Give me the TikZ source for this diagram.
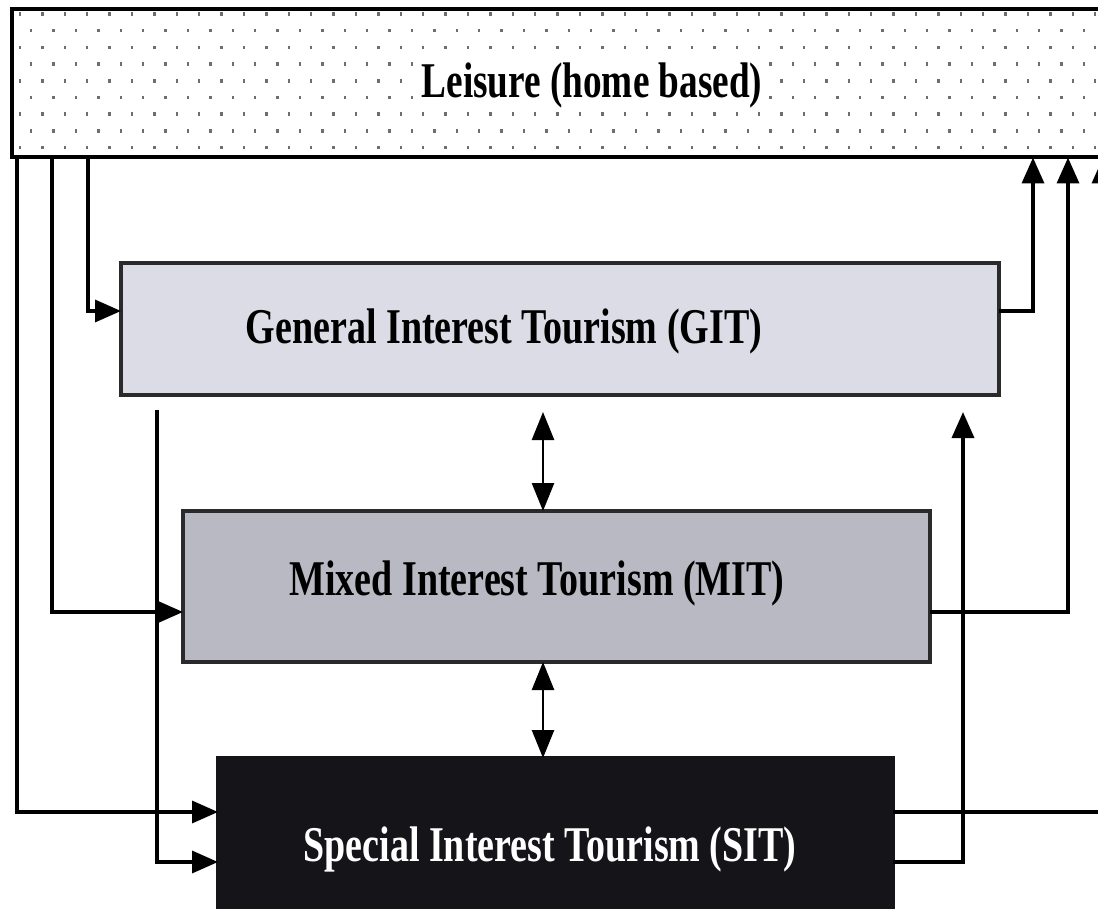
\documentclass[tikz,border=0pt]{standalone}
\usepackage{fontspec}
\setmainfont{Liberation Serif}
\usetikzlibrary{arrows.meta}
\definecolor{gitfill}{HTML}{DCDCE6}
\definecolor{mitfill}{HTML}{B9B9C3}
\definecolor{sitfill}{HTML}{141419}
\definecolor{dotcol}{HTML}{6E6E6E}
\definecolor{edgecol}{HTML}{2A2A2A}
\tikzset{
  box/.style={draw=edgecol, line width=3.5pt, rectangle, inner sep=0pt, outer sep=0pt, anchor=north west},
  lbl/.style={inner sep=2pt, font=\fontsize{50}{56}\selectfont\bfseries},
  conn/.style={draw=black, line width=3.5pt, -{Triangle[length=26pt,width=22pt]}},
  dconn/.style={draw=black, line width=2.6pt, {Triangle[length=28pt,width=22pt]}-{Triangle[length=28pt,width=22pt]}},
  dotmark/.style={fill=dotcol}
}
\begin{document}
\begin{tikzpicture}[x=1pt,y=-1pt]
\useasboundingbox (0,0) rectangle (1098,909);
\clip (0,0) rectangle (1098,909);
% Leisure box
\node[box, draw=black, line width=4pt, fill=white, minimum width=1100pt, minimum height=148pt] (leis) at (11.5,9.5) {};
\begin{scope}
  \clip (14,12) rectangle (1098,155);
  \foreach \r in {0,...,8}{
    \pgfmathsetmacro{\yy}{14+16.7*\r}
    \pgfmathsetmacro{\off}{mod(\r,2)*11.2}
    \foreach \c in {0,...,49}{
      \fill[dotmark] ({20+\off+22.4*\c-1.25},{\yy-1.75}) rectangle ++(2.5,3.5);
    }
  }
\end{scope}
\node[lbl, fill=white] (leistxt) at (592,85) {\scalebox{0.745}[1]{Leisure (home based)}};
% GIT, MIT, SIT boxes
\node[box, fill=gitfill, minimum width=878pt, minimum height=132pt] (git) at (121,263) {};
\node[lbl] (gittxt) at (504,331) {\scalebox{0.76}[1]{General Interest Tourism (GIT)}};
\node[box, fill=mitfill, minimum width=747pt, minimum height=151pt] (mit) at (183,511) {};
\node[lbl] (mittxt) at (537,583) {\scalebox{0.76}[1]{Mixed Interest Tourism (MIT)}};
\node[box, draw=sitfill, fill=sitfill, minimum width=675pt, minimum height=220pt] (sit) at (218,758) {};
\node[lbl, text=white] (sittxt) at (550,849) {\scalebox{0.76}[1]{Special Interest Tourism (SIT)}};
% left connectors
\draw[conn] (88,0 |- leis.south) |- (git.west |- 0,311);
\draw[conn] (52,0 |- leis.south) |- (mit.west |- 0,612);
\draw[conn] (17,0 |- leis.south) |- (sit.west |- 0,812);
\coordinate (gitfoot) at (157,410);
\draw[conn] (gitfoot) |- (sit.west |- 0,862);
% right connectors
\draw[conn] (git.east |- 0,311) -| (1033,0 |- leis.south);
\draw[conn] (mit.east |- 0,612) -| (1068,0 |- leis.south);
\draw[conn] (sit.east |- 0,812) -| (1103,0 |- leis.south);
\coordinate (gitbelow) at (963,412);
\draw[conn] (sit.east |- 0,862) -| (gitbelow);
% double arrows
\coordinate (dtop) at (543,412);
\draw[dconn] (dtop) -- (543,0 |- mit.north);
\draw[dconn] (543,0 |- mit.south) -- (543,0 |- sit.north);
\end{tikzpicture}
\end{document}
